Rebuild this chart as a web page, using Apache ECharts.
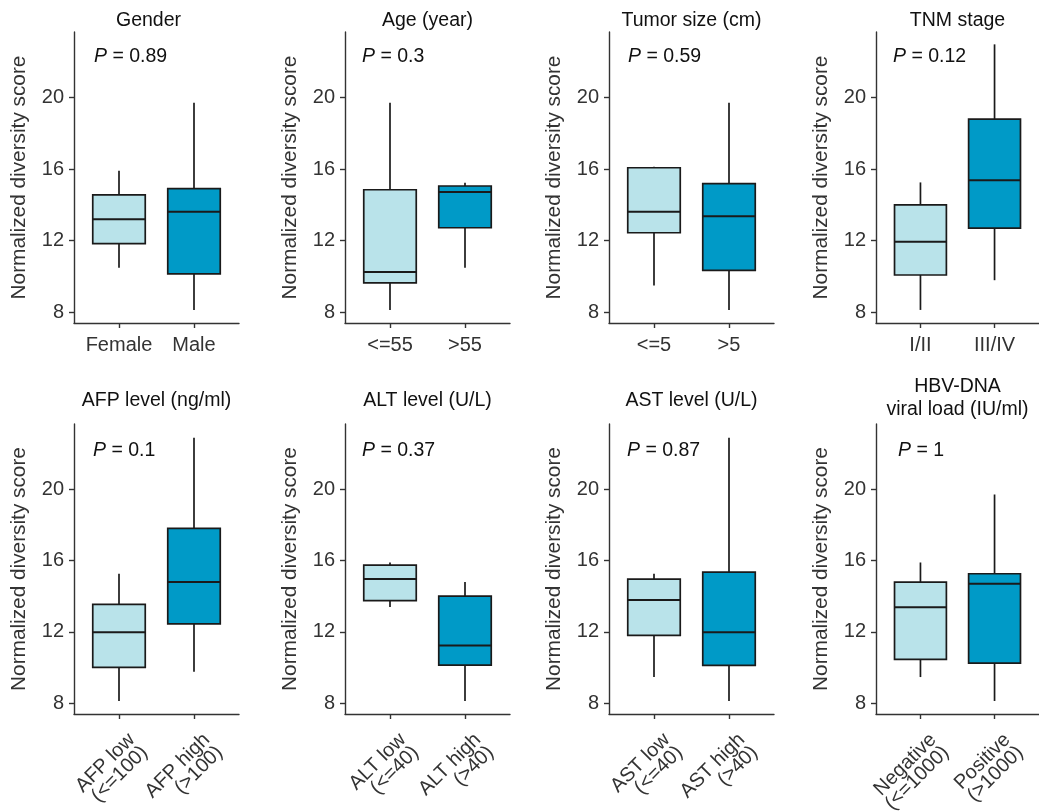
<!DOCTYPE html>
<html>
<head>
<meta charset="utf-8">
<script src="https://cdn.jsdelivr.net/npm/echarts@6/dist/echarts.min.js"></script>
<style>
  html, body { margin: 0; background: #fff; }
  #chart { width: 1039px; height: 812px; }
</style>
</head>
<body>
<div id="chart"></div>
<script>
// panel titles, p values and group labels
const panelTitles = ['Gender', 'Age (year)', 'Tumor size (cm)', 'TNM stage',
  'AFP level (ng/ml)', 'ALT level (U/L)', 'AST level (U/L)', 'HBV-DNA\nviral load (IU/ml)']
const pValues = ['0.89', '0.3', '0.59', '0.12', '0.1', '0.37', '0.87', '1']
const groupLabels = [
  ['Female', 'Male'],
  ['<=55', '>55'],
  ['<=5', '>5'],
  ['I/II', 'III/IV'],
  ['AFP low\n(<=100)', 'AFP high\n(>100)'],
  ['ALT low\n(<=40)', 'ALT high\n(>40)'],
  ['AST low\n(<=40)', 'AST high\n(>40)'],
  ['Negative\n(<=1000)', 'Positive\n(>1000)'],
]
// box stats: [lower whisker, Q1, median, Q3, upper whisker]
const lowGroupStats = [
  [10.49, 11.83, 13.19, 14.55, 15.90],
  [8.13, 9.64, 10.25, 14.84, 19.70],
  [9.49, 12.44, 13.61, 16.07, 16.13],
  [8.13, 10.08, 11.94, 14.00, 15.25],
  [8.13, 10.01, 11.98, 13.54, 15.26],
  [13.40, 13.75, 14.96, 15.74, 15.89],
  [9.47, 11.81, 13.79, 14.96, 15.26],
  [9.47, 10.46, 13.38, 14.79, 15.89],
]
const highGroupStats = [
  [8.13, 10.14, 13.61, 14.90, 19.70],
  [10.49, 12.72, 14.71, 15.05, 15.23],
  [8.13, 10.34, 13.36, 15.18, 19.70],
  [9.79, 12.70, 15.37, 18.79, 22.96],
  [9.77, 12.45, 14.79, 17.80, 22.88],
  [8.13, 10.14, 11.24, 14.01, 14.79],
  [8.13, 10.12, 11.98, 15.35, 22.88],
  [8.13, 10.25, 14.70, 15.26, 19.70],
]
const yTicks = [8, 12, 16, 20]

const FONT = '"Liberation Sans", Arial, sans-serif'
const boxColors = ['#B9E3EA', '#009AC7']
const lineColor = '#1a1a1a'
const textColor = '#333'

const colLeft = [74, 345, 609, 876]
const colWidth = [165, 165, 165, 163]
const rowTop = [32, 424]
const rowHeight = [291, 290]
const titleY = [21, 401]
const pY = [57, 451]
const pX = [94, 362, 628, 893, 93, 362, 627, 898]

function renderBox(params, api) {
  const x = api.value(0)
  const lo = api.coord([x, api.value(1)])
  const q1 = api.coord([x, api.value(2)])
  const med = api.coord([x, api.value(3)])
  const q3 = api.coord([x, api.value(4)])
  const hi = api.coord([x, api.value(5)])
  const half = api.size([0.7, 0])[0] / 2
  const stroke = { stroke: lineColor, lineWidth: 1.7 }
  return {
    type: 'group',
    children: [
      { type: 'line', shape: { x1: lo[0], y1: lo[1], x2: q1[0], y2: q1[1] }, style: stroke },
      { type: 'line', shape: { x1: q3[0], y1: q3[1], x2: hi[0], y2: hi[1] }, style: stroke },
      {
        type: 'rect',
        shape: { x: q3[0] - half, y: q3[1], width: half * 2, height: q1[1] - q3[1] },
        style: { fill: boxColors[params.dataIndex], stroke: lineColor, lineWidth: 1.7 },
      },
      { type: 'line', shape: { x1: med[0] - half, y1: med[1], x2: med[0] + half, y2: med[1] }, style: { stroke: lineColor, lineWidth: 2 } },
    ],
  }
}

const grid = [], xAxis = [], yAxis = [], series = [], graphic = []
panelTitles.forEach((title, i) => {
  const row = i < 4 ? 0 : 1
  const col = i % 4
  grid.push({
    left: colLeft[col], top: rowTop[row], width: colWidth[col], height: rowHeight[row],
    containLabel: false, outerBoundsMode: 'none',
  })
  xAxis.push({
    type: 'value', gridIndex: i, min: 0.4, max: 2.6,
    axisLine: { lineStyle: { color: '#333', width: 1.4 } },
    axisTick: { customValues: [1, 2], length: 5, lineStyle: { color: '#333', width: 1.4 } },
    axisLabel: {
      customValues: [1, 2],
      formatter: (v) => groupLabels[i][Math.round(v) - 1],
      color: textColor, fontFamily: FONT, fontSize: 20,
      margin: row === 0 ? 11 : 10,
      rotate: row === 0 ? 0 : 45,
      lineHeight: row === 0 ? 22 : 18,
      align: row === 0 ? 'center' : 'right',
      verticalAlign: 'top',
      padding: row === 0 ? 0 : [9, 0, 0, 0],
      hideOverlap: false,
    },
    splitLine: { show: false },
  })
  yAxis.push({
    type: 'value', gridIndex: i, min: 7.4, max: 23.65,
    name: 'Normalized diversity score', nameLocation: 'middle', nameGap: 44,
    nameTextStyle: { color: textColor, fontFamily: FONT, fontSize: 20.8 },
    axisLine: { show: true, lineStyle: { color: '#333', width: 1.4 } },
    axisTick: { show: true, customValues: yTicks, length: 5, lineStyle: { color: '#333', width: 1.4 } },
    axisLabel: { customValues: yTicks, color: textColor, fontFamily: FONT, fontSize: 20, margin: 10 },
    splitLine: { show: false },
  })
  series.push({
    type: 'custom', xAxisIndex: i, yAxisIndex: i,
    renderItem: renderBox, clip: false,
    encode: { x: 0, y: [1, 2, 3, 4, 5] },
    data: [[1].concat(lowGroupStats[i]), [2].concat(highGroupStats[i])],
  })
  graphic.push({
    type: 'text', silent: true,
    x: colLeft[col] + colWidth[col] / 2 + (i === 0 ? -8 : 0), y: titleY[row] - (i === 7 ? 2.5 : 0),
    style: {
      text: title, fill: '#111', fontFamily: FONT, fontSize: 19.5,
      align: 'center', verticalAlign: 'middle', lineHeight: 23,
    },
  })
  graphic.push({
    type: 'text', silent: true, x: pX[i], y: pY[row],
    style: {
      text: '{i|P} = ' + pValues[i], fill: '#111', fontFamily: FONT, fontSize: 19.5,
      align: 'left', verticalAlign: 'middle',
      rich: { i: { fontStyle: 'italic', fontFamily: FONT, fontSize: 19.5, fill: '#111' } },
    },
  })
})

const chart = echarts.init(document.getElementById('chart'))
chart.setOption({
  backgroundColor: '#fff',
  animation: false,
  grid, xAxis, yAxis, series, graphic,
})
</script>
</body>
</html>
